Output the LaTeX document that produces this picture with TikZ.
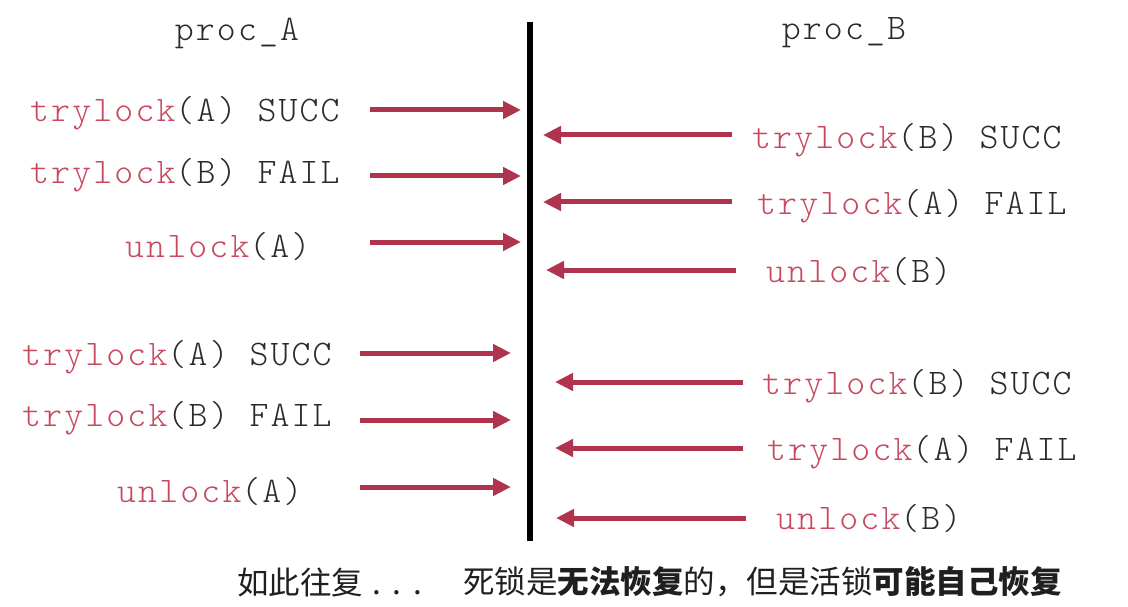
\documentclass[tikz,border=0pt]{standalone}
\usepackage{fontspec}
\setmonofont{Latin Modern Mono Light}[LetterSpace=6]
\newfontfamily\cjk{Noto Sans CJK SC}
\usetikzlibrary{arrows.meta}
\definecolor{pinktxt}{HTML}{C8485E}
\definecolor{arrowred}{HTML}{B0344E}
\definecolor{graytxt}{HTML}{2A2A2A}
\newcommand{\fn}[1]{\textcolor{pinktxt}{#1}}
\tikzset{
  lbl/.style={inner sep=0pt, anchor=west, yshift=-3pt, font=\ttfamily\fontsize{36}{36}\selectfont, text=graytxt},
  hdr/.style={inner sep=0pt, yshift=-3pt, font=\ttfamily\fontsize{36}{36}\selectfont, text=graytxt},
  msg/.style={draw=arrowred, line width=5pt, -{Triangle[length=18pt,width=17pt]}},
  note/.style={inner sep=0pt, anchor=west, font=\cjk\fontsize{31.5}{31.5}\selectfont, text=black!88}
}
\begin{document}
\begin{tikzpicture}[x=1pt,y=-1pt]
\useasboundingbox (0,0) rectangle (1128,607);
\fill[white] (0,0) rectangle (1128,607);
% headers
\node[hdr] (pa) at (237,30) {proc\_A};
\node[hdr] (pb) at (844,30) {proc\_B};
% timeline
\coordinate (ttop) at (530,22);
\coordinate (tbot) at (530,541);
\draw[line width=6pt, black] (ttop) -- (tbot);
% left group 1
\node[lbl] (l1) at (30,110) {\fn{trylock}(A) SUCC};
\node[lbl] (l2) at (30,172) {\fn{trylock}(B) FAIL};
\node[lbl] (l3) at (125,243) {\fn{unlock}(A)};
\coordinate (l1s) at (370,110); \coordinate (l1e) at (521,110);
\coordinate (l2s) at (370,176); \coordinate (l2e) at (521,176);
\coordinate (l3s) at (370,242); \coordinate (l3e) at (521,242);
\draw[msg] (l1s) -- (l1e);
\draw[msg] (l2s) -- (l2e);
\draw[msg] (l3s) -- (l3e);
% right group 1
\node[lbl] (r1) at (752,137) {\fn{trylock}(B) SUCC};
\node[lbl] (r2) at (757,203) {\fn{trylock}(A) FAIL};
\node[lbl] (r3) at (766,268) {\fn{unlock}(B)};
\coordinate (r1s) at (732,135); \coordinate (r1e) at (543,135);
\coordinate (r2s) at (732,202); \coordinate (r2e) at (543,202);
\coordinate (r3s) at (736,270); \coordinate (r3e) at (546,270);
\draw[msg] (r1s) -- (r1e);
\draw[msg] (r2s) -- (r2e);
\draw[msg] (r3s) -- (r3e);
% left group 2
\node[lbl] (l4) at (22,354) {\fn{trylock}(A) SUCC};
\node[lbl] (l5) at (22,415) {\fn{trylock}(B) FAIL};
\node[lbl] (l6) at (117,488) {\fn{unlock}(A)};
\coordinate (l4s) at (360,353); \coordinate (l4e) at (511,353);
\coordinate (l5s) at (360,420); \coordinate (l5e) at (511,420);
\coordinate (l6s) at (360,487); \coordinate (l6e) at (511,487);
\draw[msg] (l4s) -- (l4e);
\draw[msg] (l5s) -- (l5e);
\draw[msg] (l6s) -- (l6e);
% right group 2
\node[lbl] (r4) at (762,383) {\fn{trylock}(B) SUCC};
\node[lbl] (r5) at (767,449) {\fn{trylock}(A) FAIL};
\node[lbl] (r6) at (776,515) {\fn{unlock}(B)};
\coordinate (r4s) at (743,382); \coordinate (r4e) at (555,382);
\coordinate (r5s) at (743,448); \coordinate (r5e) at (555,448);
\coordinate (r6s) at (746,518); \coordinate (r6e) at (556,518);
\draw[msg] (r4s) -- (r4e);
\draw[msg] (r5s) -- (r5e);
\draw[msg] (r6s) -- (r6e);
% bottom notes
\node[note] (n1) at (237,582) {如此往复\hspace{9pt}.\hspace{12pt}.\hspace{12pt}.};
\node[note] (n2) at (463,582) {死锁是\textbf{无法恢复}的，但是活锁\textbf{可能自己恢复}};
\end{tikzpicture}
\end{document}
